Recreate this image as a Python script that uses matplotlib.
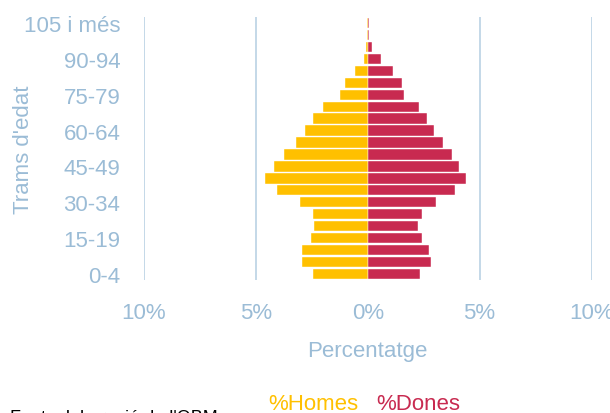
import matplotlib
matplotlib.use("Agg")
import matplotlib.pyplot as plt

age_groups = ["0-4", "5-9", "10-14", "15-19", "20-24", "25-29", "30-34", "35-39",
              "40-44", "45-49", "50-54", "55-59", "60-64", "65-69", "70-74", "75-79",
              "80-84", "85-89", "90-94", "95-99", "100-104", "105 i més"]
homes = [2.46, 2.94, 2.94, 2.53, 2.39, 2.46, 3.03, 4.06, 4.60, 4.20, 3.73, 3.19,
         2.79, 2.46, 2.00, 1.26, 1.02, 0.56, 0.15, 0.07, 0.05, 0.05]
dones = [2.33, 2.82, 2.73, 2.42, 2.26, 2.42, 3.05, 3.92, 4.41, 4.10, 3.78, 3.38,
         2.97, 2.66, 2.27, 1.63, 1.54, 1.13, 0.58, 0.18, 0.05, 0.05]
x_ticks = [-10, -5, 0, 5, 10]
x_tick_labels = ["10%", "5%", "0%", "5%", "10%"]
shown_labels = ["0-4", "15-19", "30-34", "45-49", "60-64", "75-79", "90-94", "105 i més"]

plt.rcParams["font.family"] = ["Liberation Sans", "DejaVu Sans"]

yellow = "#FFC000"
red = "#C82A50"
txt = "#9BBCD6"
grid = "#BFD5E6"

fig = plt.figure(figsize=(6.10, 4.14), dpi=100)
ax = fig.add_axes([144/610, 1-281/414, 447.5/610, 263/414])

pos = list(range(len(age_groups)))
ax.barh(pos, [-h for h in homes], height=0.86, color=yellow, edgecolor="white",
        linewidth=0.3, label="%Homes")
ax.barh(pos, dones, height=0.86, color=red, edgecolor="white",
        linewidth=0.3, label="%Dones")

ax.set_xlim(-10, 10)
ax.set_ylim(-0.5, len(age_groups) - 0.5)
ax.set_xticks(x_ticks)
ax.set_xticklabels(x_tick_labels)
ax.set_yticks(pos)
ax.set_yticklabels([a if a in shown_labels else "" for a in age_groups])
for v in [-10, -5, 5, 10]:
    ax.axvline(v, color=grid, lw=1.3, zorder=0)
for s in ax.spines.values():
    s.set_visible(False)
ax.tick_params(length=0, labelsize=16, colors=txt)
ax.tick_params(axis="x", pad=16)
ax.tick_params(axis="y", pad=17)
ax.set_xlabel("Percentatge", fontsize=16, color=txt, labelpad=12)
ax.set_ylabel("Trams d'edat", fontsize=16, color=txt)
ax.yaxis.set_label_coords(-0.245, 0.5)

leg = fig.legend(loc="lower center", bbox_to_anchor=(0.597, -0.05), ncol=2, frameon=False,
                 handlelength=0, handletextpad=0, columnspacing=0.8, fontsize=16,
                 labelcolor=[yellow, red])
for h in leg.legend_handles:
    h.set_visible(False)

fig.text(10/610, 1-427/414, "Font: elaboració de l'OBM", fontsize=13, color="black",
         va="bottom", ha="left")

fig.savefig("out.png", dpi=100)
